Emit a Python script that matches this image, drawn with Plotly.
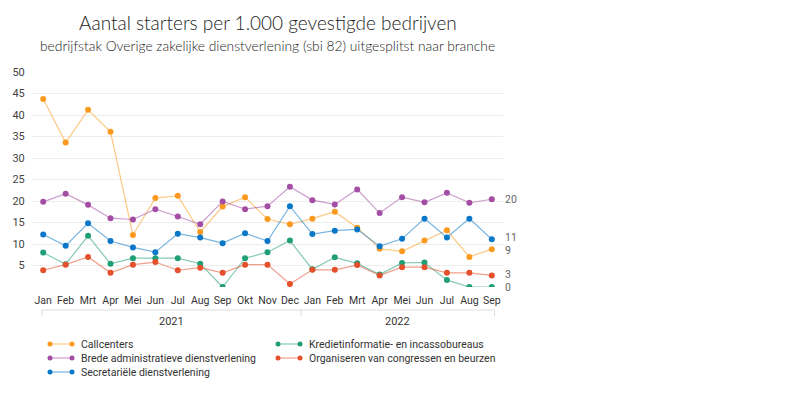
import plotly.graph_objects as go

months = ["Jan", "Feb", "Mrt", "Apr", "Mei", "Jun", "Jul", "Aug", "Sep", "Okt", "Nov", "Dec",
          "Jan", "Feb", "Mrt", "Apr", "Mei", "Jun", "Jul", "Aug", "Sep"]
years = ["2021", "2022"]

callcenters = [43.7, 33.6, 41.2, 36.1, 12.1, 20.7, 21.2, 12.8, 18.7, 20.9, 15.8, 14.6,
               15.9, 17.5, 13.8, 8.9, 8.3, 10.8, 13.2, 7.0, 8.8]
brede = [19.8, 21.7, 19.1, 16.0, 15.7, 18.1, 16.4, 14.6, 19.9, 18.1, 18.8, 23.3,
         20.2, 19.2, 22.7, 17.2, 20.9, 19.7, 21.9, 19.6, 20.4]
secretariele = [12.2, 9.6, 14.8, 10.7, 9.2, 8.1, 12.4, 11.5, 10.2, 12.5, 10.7, 18.8,
                12.3, 13.1, 13.4, 9.5, 11.2, 15.9, 11.5, 15.9, 11.1]
krediet = [8.0, 5.3, 11.9, 5.4, 6.7, 6.7, 6.7, 5.4, 0.0, 6.7, 8.1, 10.8,
           4.1, 6.9, 5.5, 2.9, 5.6, 5.7, 1.6, 0.0, 0.0]
organiseren = [3.9, 5.2, 7.0, 3.3, 5.2, 5.8, 3.9, 4.5, 3.3, 5.2, 5.2, 0.7,
               4.0, 4.0, 5.1, 2.7, 4.6, 4.6, 3.3, 3.3, 2.7]

series = [
    ("Callcenters", callcenters, "#fc9a1f"),
    ("Brede administratieve dienstverlening", brede, "#a34ea4"),
    ("Secretariële dienstverlening", secretariele, "#0a78c8"),
    ("Kredietinformatie- en incassobureaus", krediet, "#1f9e78"),
    ("Organiseren van congressen en beurzen", organiseren, "#e4502b"),
]

FONT = "Roboto, sans-serif"


def hex_rgba(h, a):
    h = h.lstrip("#")
    return "rgba(%d,%d,%d,%.2f)" % (int(h[0:2], 16), int(h[2:4], 16), int(h[4:6], 16), a)


# page body has an 8px default margin; target page coordinates are converted below
OFF = 8
W, H = 801, 395
PL, PT, PW, PH = 32, 72, 471, 215          # plot area in page pixels
L, T = PL - OFF, PT - OFF
R, B = W - L - PW, H - T - PH
PX_PER_UNIT = PH / 50.0


def px(x):
    return (x - PL) / PW


def py(y):
    return (PT + PH - y) / PH


x_idx = list(range(len(months)))
fig = go.Figure()
for name, vals, col in series:
    fig.add_trace(go.Scatter(
        x=x_idx, y=vals, mode="lines", name=name,
        line=dict(color=hex_rgba(col, 0.55), width=1.2),
        showlegend=False, hoverinfo="skip"))
for name, vals, col in series:
    fig.add_trace(go.Scatter(
        x=x_idx, y=vals, mode="markers", name=name,
        marker=dict(color=col, size=6),
        showlegend=False))

annotations = []
shapes = []

# End labels (nudged apart slightly when they crowd each other)
ends = sorted([(vals[-1], name) for name, vals, col in series], reverse=True)
min_gap = 13.0
placed = []
for v, name in ends:
    pos = v * PX_PER_UNIT
    if placed and placed[-1][1] - pos < min_gap:
        # split the difference between the two labels
        need = min_gap - (placed[-1][1] - pos)
        prev_v, prev_pos, prev_name = placed[-1][0], placed[-1][1], placed[-1][2]
        placed[-1] = (prev_v, prev_pos + need / 2, prev_name)
        pos = pos - need / 2
    placed.append((v, pos, name))
for v, pos, name in placed:
    annotations.append(dict(
        x=x_idx[-1], y=v, xref="x", yref="y", text=str(int(round(v))),
        showarrow=False, xanchor="left", xshift=12, yshift=pos - v * PX_PER_UNIT,
        borderpad=0,
        font=dict(family=FONT, size=10.5, color="#666666")))

# Title / subtitle
annotations.append(dict(x=0.5, y=py(22), xref="paper", yref="paper",
                        text="Aantal starters per 1.000 gevestigde bedrijven",
                        showarrow=False, xanchor="center", yanchor="middle",
                        font=dict(family="Lato", size=19, color="#222222", weight=300)))
annotations.append(dict(x=0.5, y=py(46), xref="paper", yref="paper",
                        text="bedrijfstak Overige zakelijke dienstverlening (sbi 82) uitgesplitst naar branche",
                        showarrow=False, xanchor="center", yanchor="middle",
                        font=dict(family="Lato", size=13.8, color="#222222", weight=300)))

# Year grouping axis
grp_y = py(310)
tick_y = py(316)
x0, xm, x1 = -0.06, 11.5, 20.12
shapes.append(dict(type="line", xref="x", yref="paper", x0=x0, x1=x1, y0=grp_y, y1=grp_y,
                   line=dict(color="#dddddd", width=1)))
for xv in (x0, xm, x1):
    shapes.append(dict(type="line", xref="x", yref="paper", x0=xv, x1=xv, y0=grp_y, y1=tick_y,
                       line=dict(color="#dddddd", width=1)))
for yr, (a, b) in zip(years, [(x0, xm), (xm, x1)]):
    annotations.append(dict(x=(a + b) / 2, y=py(321), xref="x", yref="paper", text=yr,
                            showarrow=False, xanchor="center", yanchor="middle",
                            font=dict(family=FONT, size=11, color="#333333")))

# Manual legend (column-major)
legend_pos = [(50, 344), (50, 358), (50, 372), (278, 344), (278, 358)]
for (name, vals, col), (lx, ly) in zip(series, legend_pos):
    shapes.append(dict(type="line", xref="paper", yref="paper",
                       x0=px(lx), x1=px(lx + 22), y0=py(ly), y1=py(ly),
                       line=dict(color=hex_rgba(col, 0.55), width=1.2)))
    for cx in (lx, lx + 22):
        shapes.append(dict(type="circle", xref="paper", yref="paper",
                           x0=px(cx - 2.5), x1=px(cx + 2.5), y0=py(ly + 2.5), y1=py(ly - 2.5),
                           fillcolor=col, line=dict(width=0)))
    annotations.append(dict(x=px(lx + 29), y=py(ly), xref="paper", yref="paper", text=name,
                            showarrow=False, xanchor="left", yanchor="middle",
                            font=dict(family=FONT, size=10.5, color="#333333")))

fig.update_layout(
    width=W, height=H,
    margin=dict(l=L, r=R, t=T, b=B, pad=0),
    paper_bgcolor="white", plot_bgcolor="white",
    showlegend=False,
    annotations=annotations, shapes=shapes,
    xaxis=dict(range=[-0.5, 20.5], tickvals=x_idx, ticktext=months, showgrid=False,
               zeroline=False, showline=False, ticks="outside", ticklen=3, tickcolor="rgba(0,0,0,0)",
               automargin=False, tickangle=0,
               tickfont=dict(family=FONT, size=10.5, color="#333333"), fixedrange=True),
    yaxis=dict(range=[0, 50], tickvals=list(range(0, 55, 5)),
               ticktext=[""] + [str(v) for v in range(5, 55, 5)],
               showgrid=True, gridcolor="#eeeeee", gridwidth=1, zeroline=False, showline=False,
               automargin=False, ticks="outside", ticklen=4, tickcolor="rgba(0,0,0,0)",
               tickfont=dict(family=FONT, size=11, color="#444444"), fixedrange=True),
    hovermode="closest",
)

fig.write_html("out.html")
